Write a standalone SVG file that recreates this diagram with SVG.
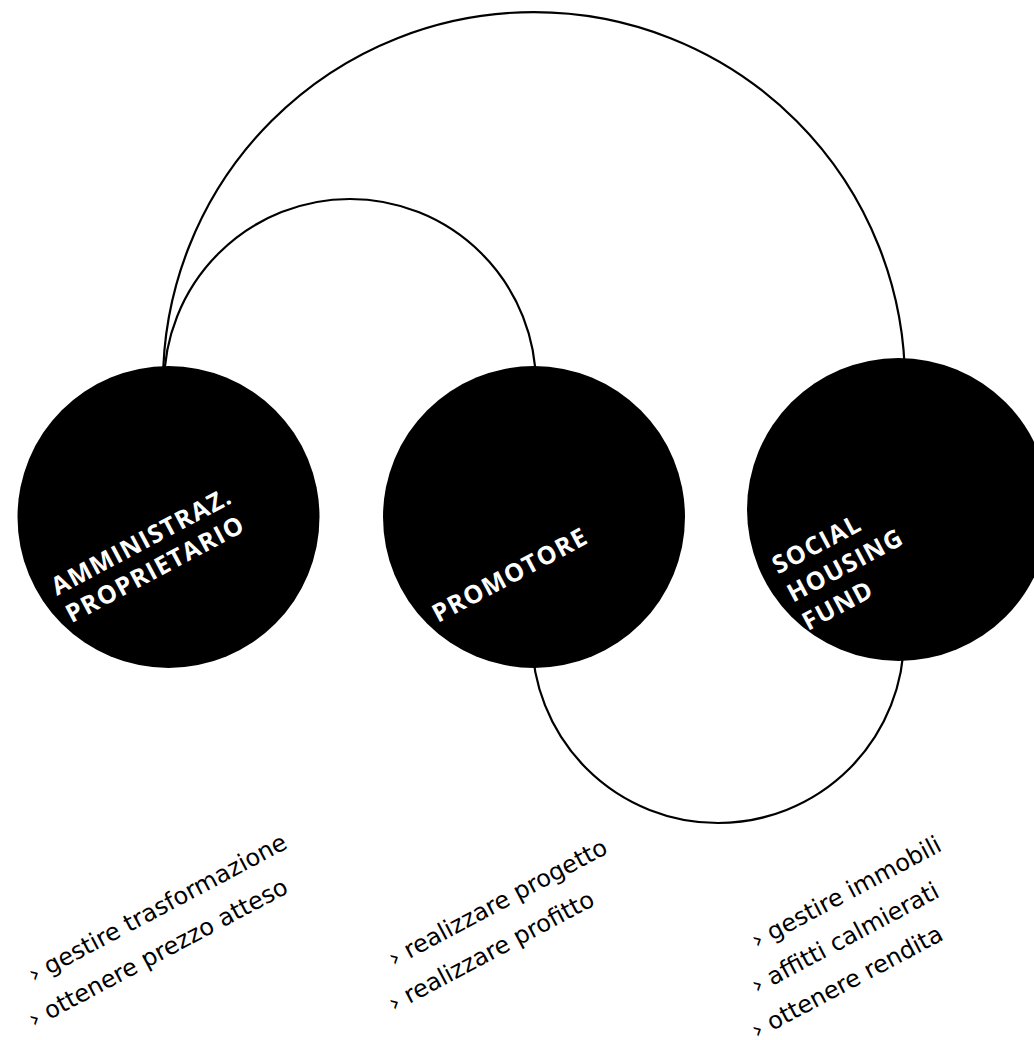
<svg xmlns="http://www.w3.org/2000/svg" width="1034" height="1040" viewBox="0 0 1034 1040">
<style>
.link{fill:none;stroke:#000;stroke-width:2.2}
.node{fill:#000}
.nl{font-family:"Open Sans","DejaVu Sans",sans-serif;font-weight:700;font-size:25px;letter-spacing:1.3px;fill:#fff}
.gl{font-family:"DejaVu Sans","Liberation Sans",sans-serif;font-size:24px;fill:#000}
</style>
<rect width="1034" height="1040" fill="#fff"/>
<g id="connectors">
<path class="link" d="M163,383 A371,371 0 0 1 905,383"/>
<path class="link" d="M164,385 A186,186 0 0 1 536,385"/>
<path class="link" d="M532,637 A186,186 0 0 0 904,637"/>
</g>
<g id="node-amministrazione">
<circle class="node" cx="168.5" cy="517" r="151"/>
<text class="nl" transform="translate(57,596) rotate(-28)"><tspan x="0" y="0">AMMINISTRAZ.</tspan><tspan x="0" y="31">PROPRIETARIO</tspan></text>
</g>
<g id="node-promotore">
<circle class="node" cx="534" cy="517" r="151"/>
<text class="nl" transform="translate(438,623) rotate(-28)">PROMOTORE</text>
</g>
<g id="node-social-housing-fund">
<circle class="node" cx="898.5" cy="509.5" r="151.5"/>
<text class="nl" transform="translate(778,574.5) rotate(-28)"><tspan x="0" y="0">SOCIAL</tspan><tspan x="0" y="32">HOUSING</tspan><tspan x="0" y="64">FUND</tspan></text>
</g>
<g id="goals-amministrazione">
<text class="gl" transform="translate(34,983) rotate(-28)">› gestire trasformazione</text>
<text class="gl" transform="translate(34,1028) rotate(-28)">› ottenere prezzo atteso</text>
</g>
<g id="goals-promotore">
<text class="gl" transform="translate(394,967) rotate(-28)">› realizzare progetto</text>
<text class="gl" transform="translate(394,1012) rotate(-28)">› realizzare profitto</text>
</g>
<g id="goals-social-housing-fund">
<text class="gl" transform="translate(757,949) rotate(-28)">› gestire immobili</text>
<text class="gl" transform="translate(757,994) rotate(-28)">› affitti calmierati</text>
<text class="gl" transform="translate(757,1039) rotate(-28)">› ottenere rendita</text>
</g>
</svg>
